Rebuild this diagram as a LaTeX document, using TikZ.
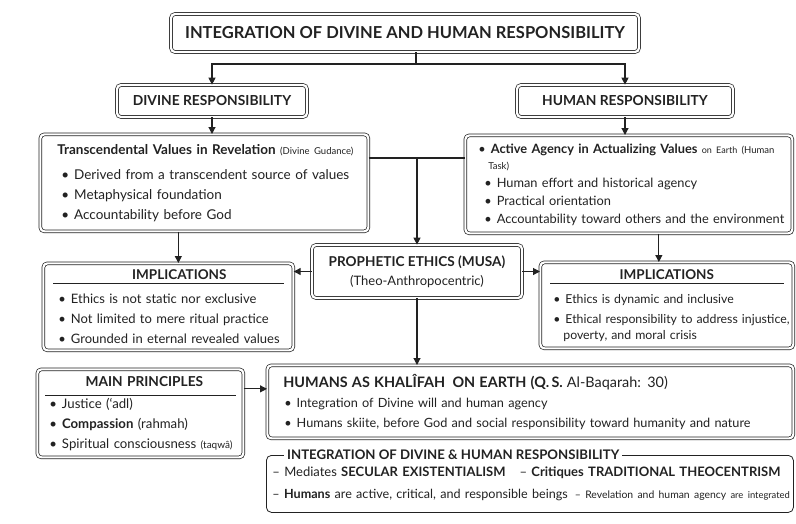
\documentclass[tikz,border=0pt]{standalone}
\usepackage{fontspec}
\setmainfont{Lato}
\usetikzlibrary{positioning, arrows.meta}
\definecolor{ink}{HTML}{222222}
\definecolor{paper}{HTML}{FFFFFF}
\newcommand{\bul}{\textbullet\hspace{5pt}}
\newcommand{\smallnote}{\fontsize{9.5}{10}\selectfont}

\begin{document}
\begin{tikzpicture}[x=1pt, y=-1pt,
    % 1. double framed box
    panel/.style={rectangle, draw=ink, fill=paper, text=ink, line width=0.7pt,
        double=paper, double distance=2.2pt, rounded corners=4pt,
        inner xsep=3pt, inner ysep=2pt, align=left, anchor=north west,
        font=\fontsize{13}{20}\selectfont},
    % 2. headings in capitals
    tag/.style={panel, anchor=center, align=center, font=\fontsize{13.8}{15}\selectfont\bfseries},
    % 3. connectors
    link/.style={draw=ink, line width=1.1pt},
    flow/.style={link, -{Triangle[length=7pt, width=7pt]}},
    % 4. rule under box headings
    headrule/.style={draw=ink, line width=0.6pt}
]

\fill[paper] (0,0) rectangle (796,523);
\useasboundingbox (0,0) rectangle (796,523);

% === TOP ===
\node[tag, minimum width=468pt, minimum height=38pt, font=\fontsize{16.5}{18}\selectfont\bfseries] (title) at (405,33)
    {INTEGRATION OF DIVINE AND HUMAN RESPONSIBILITY};

\node[tag, minimum width=190pt, minimum height=32pt] (divres) at (212,101) {DIVINE RESPONSIBILITY};
\node[tag, minimum width=216pt, minimum height=32pt] (humres) at (625,101) {HUMAN RESPONSIBILITY};

\coordinate (hub) at (416,64);
\draw[link] (title.south -| hub) -- (hub);
\draw[flow] (hub) -| (divres.north);
\draw[flow] (hub) -| (humres.north);

% === SECOND ROW ===
\node[panel, minimum width=328pt, minimum height=97pt, text width=322pt, font=\fontsize{13.5}{20}\selectfont] (trans) at (40,134)
    {\hspace*{14pt}\textbf{Transcendental Values in Revelation} {\smallnote(Divine Gudance)}\\[5pt]
     \hspace*{18pt}\bul Derived from a transcendent source of values\\
     \hspace*{18pt}\bul Metaphysical foundation\\
     \hspace*{18pt}\bul Accountability before God};

\node[panel, minimum width=327pt, minimum height=98pt, text width=321pt, font=\fontsize{12.8}{20}\selectfont] (active) at (465,135)
    {\hspace*{10pt}\bul\textbf{Active Agency in Actualizing Values} {\small on Earth} {\smallnote(Human}\\[-4pt]
     \hspace*{20pt}{\smallnote Task)}\\[-2pt]
     \hspace*{16pt}\bul Human effort and historical agency\\[-2pt]
     \hspace*{16pt}\bul Practical orientation\\[-2pt]
     \hspace*{16pt}\bul Accountability toward others and the environment};

\draw[flow] (divres.south) -- (divres.south |- trans.north);
\draw[flow] (humres.south) -- (humres.south |- active.north);

% === CENTRE ===
\node[panel, anchor=center, align=center, minimum width=210pt, minimum height=53pt] (prophetic) at (417,271.5)
    {{\fontsize{13.6}{15}\selectfont\textbf{PROPHETIC ETHICS (MUSA)}}\\[-1pt] (Theo-Anthropocentric)};

\coordinate (join) at (417,158);
\draw[link] (trans.east |- join) -- (join) -- (active.west |- join);
\draw[flow] (join) -- (prophetic.north);

% === IMPLICATIONS ===
\node[panel, minimum width=250pt, minimum height=87pt, text width=244pt] (implL) at (43,263)
    {\makebox[\linewidth]{\hspace{22pt}\fontsize{13.5}{15}\selectfont\textbf{IMPLICATIONS}}\\[4pt]
     \hspace*{12pt}\bul Ethics is not static nor exclusive\\
     \hspace*{12pt}\bul Not limited to mere ritual practice\\
     \hspace*{12pt}\bul Grounded in eternal revealed values};
\draw[headrule] ([xshift=10pt, yshift=-20pt]implL.north west) -- ([xshift=-10pt, yshift=-20pt]implL.north east);

\node[panel, minimum width=253pt, minimum height=86pt, text width=247pt, font=\fontsize{12.3}{20}\selectfont] (implR) at (540,262)
    {\makebox[\linewidth]{\fontsize{13.5}{15}\selectfont\textbf{IMPLICATIONS}}\\[4pt]
     \hspace*{10pt}\bul Ethics is dynamic and inclusive\\
     \hspace*{10pt}\bul Ethical responsibility to address injustice,\\[-4pt]
     \hspace*{20pt}poverty, and moral crisis};
\draw[headrule] ([xshift=10pt, yshift=-21pt]implR.north west) -- ([xshift=-10pt, yshift=-21pt]implR.north east);

\draw[flow] ([xshift=10pt]implL.north |- trans.south) -- ([xshift=10pt]implL.north);
\draw[flow] ([xshift=-8pt]implR.north |- active.south) -- ([xshift=-8pt]implR.north);
\draw[flow] (prophetic.west) -- (prophetic.west -| implL.east);
\draw[flow] (prophetic.east) -- (prophetic.east -| implR.west);

% === BOTTOM ROW ===
\node[panel, minimum width=206pt, minimum height=88pt, text width=200pt, font=\fontsize{13.2}{20}\selectfont] (principles) at (37,369)
    {\makebox[\linewidth]{\hspace{8pt}\fontsize{13.7}{15}\selectfont\textbf{MAIN PRINCIPLES}}\\[2pt]
     \hspace*{9pt}\bul Justice (‘adl)\\
     \hspace*{9pt}\bul \textbf{Compassion} (rahmah)\\
     \mbox{\hspace*{9pt}\bul Spiritual consciousness {\fontsize{10}{12}\selectfont(taqwâ)}}};
\draw[headrule] ([xshift=8pt, yshift=-26pt]principles.north west) -- ([xshift=-8pt, yshift=-26pt]principles.north east);

\node[panel, minimum width=526pt, minimum height=73pt, text width=520pt, font=\fontsize{12.7}{20}\selectfont] (khalifah) at (267,365)
    {\hspace*{13pt}{\fontsize{14.4}{16}\selectfont\textbf{HUMANS AS KHALÎFAH\enspace ON EARTH (Q.\,S.} Al-Baqarah: 30)}\\
     \hspace*{14pt}\bul Integration of Divine will and human agency\\
     \hspace*{14pt}\bul Humans skiite, before God and social responsibility toward humanity and nature};

\draw[flow] (prophetic.south) -- (prophetic.south |- khalifah.north);
\draw[flow] ([yshift=13pt]khalifah.west -| principles.east) -- ([yshift=13pt]khalifah.west);

% === INTEGRATION FRAME ===
\node[draw=ink, line width=0.8pt, rounded corners=5pt, anchor=north west, align=left,
      minimum width=527pt, minimum height=57pt, text width=525pt, inner xsep=1pt,
      font=\fontsize{13}{22}\selectfont, text=ink] (integ) at (266,455)
    {\hspace*{5pt}– Mediates \textbf{SECULAR EXISTENTIALISM}\hspace{14pt}– \textbf{Critiques TRADITIONAL THEOCENTRISM}\\
     \mbox{\hspace*{5pt}{\fontsize{12.6}{22}\selectfont– \textbf{Humans} are active, critical, and responsible beings}\hspace{7pt}{\fontsize{10.4}{12}\selectfont – Revelation and human agency {\fontsize{9.4}{12}\selectfont are integrated}}}};
\node[fill=paper, text=ink, inner xsep=3pt, anchor=west, font=\fontsize{13.2}{15}\selectfont\bfseries] (integhead)
    at ([xshift=18pt]integ.north west) {INTEGRATION OF DIVINE \& HUMAN RESPONSIBILITY};

\end{tikzpicture}
\end{document}
